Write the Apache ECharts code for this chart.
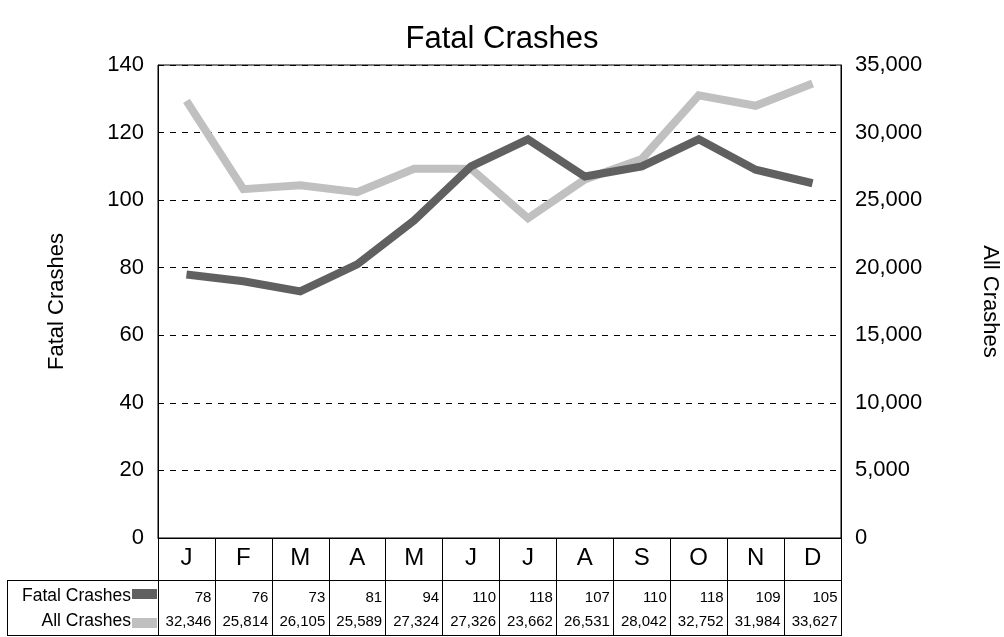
<!DOCTYPE html>
<html>
<head>
<meta charset="utf-8">
<title>Fatal Crashes</title>
<script src="https://cdn.jsdelivr.net/npm/echarts@6/dist/echarts.min.js"></script>
<style>
  html, body { margin: 0; padding: 0; background: #fff; }
  #chart { width: 1004px; height: 637px; }
</style>
</head>
<body>
<div id="chart"></div>
<script>
// data
var months = ['J', 'F', 'M', 'A', 'M', 'J', 'J', 'A', 'S', 'O', 'N', 'D'];
var fatalCrashes = [78, 76, 73, 81, 94, 110, 118, 107, 110, 118, 109, 105];
var allCrashes = [32346, 25814, 26105, 25589, 27324, 27326, 23662, 26531, 28042, 32752, 31984, 33627];

var FONT = 'Liberation Sans, Arial, sans-serif';
var darkGray = '#606060';
var lightGray = '#c0c0c0';

var chart = echarts.init(document.getElementById('chart'));

function fmt(v) {
  return String(v).replace(/\B(?=(\d{3})+(?!\d))/g, ',');
}

// 表格行（数值），用额外的类目轴来放
function tableAxis(values, margin) {
  return {
    type: 'category',
    gridIndex: 0,
    position: 'bottom',
    data: values.map(fmt),
    axisLine: { show: false },
    axisTick: { show: false },
    axisLabel: {
      interval: 0,
      hideOverlap: false,
      margin: margin,
      formatter: function (v) { return '{v|' + v + '}'; },
      rich: { v: { width: 50, align: 'right', fontSize: 15, fontFamily: FONT, color: '#000' } }
    }
  };
}

var option = {
  animation: false,
  textStyle: { fontFamily: FONT },
  title: {
    text: 'Fatal Crashes',
    left: 'center',
    top: 19,
    textStyle: { fontSize: 31, fontWeight: 'normal', color: '#000', fontFamily: FONT }
  },
  grid: {
    left: 158, right: 163, top: 65, bottom: 99,
    containLabel: false,
    outerBoundsMode: 'none',
    show: true, borderColor: '#000', borderWidth: 1
  },
  xAxis: [
    {
      type: 'category',
      data: months,
      boundaryGap: true,
      axisLine: { lineStyle: { color: '#000', width: 1 } },
      axisTick: { show: true, inside: false, length: 98, interval: 0, lineStyle: { color: '#000', width: 1 } },
      axisLabel: { interval: 0, margin: 8, fontSize: 24, color: '#000', fontFamily: FONT }
    },
    tableAxis(fatalCrashes, 52),
    tableAxis(allCrashes, 76)
  ],
  yAxis: [
    {
      type: 'value',
      min: 0, max: 140, interval: 20,
      name: 'Fatal Crashes',
      nameLocation: 'middle',
      nameGap: 90,
      nameTextStyle: { fontSize: 22, color: '#000', fontFamily: FONT },
      axisLine: { show: true, lineStyle: { color: '#000' } },
      axisTick: { show: false },
      axisLabel: { fontSize: 22, color: '#000', margin: 14, fontFamily: FONT },
      splitLine: { show: true, lineStyle: { color: '#000', type: [6, 6], width: 1 } }
    },
    {
      type: 'value',
      min: 0, max: 35000, interval: 5000,
      name: 'All Crashes',
      nameLocation: 'middle',
      nameRotate: -90,
      nameGap: 138,
      nameTextStyle: { fontSize: 22, color: '#000', fontFamily: FONT },
      axisLine: { show: true, lineStyle: { color: '#000' } },
      axisTick: { show: false },
      axisLabel: { fontSize: 22, color: '#000', margin: 14, fontFamily: FONT, formatter: fmt },
      splitLine: { show: false }
    }
  ],
  series: [
    {
      name: 'All Crashes',
      type: 'line',
      yAxisIndex: 1,
      data: allCrashes,
      showSymbol: false,
      symbol: 'none',
      lineStyle: { color: lightGray, width: 8, join: 'miter' },
      itemStyle: { color: lightGray }
    },
    {
      name: 'Fatal Crashes',
      type: 'line',
      yAxisIndex: 0,
      data: fatalCrashes,
      showSymbol: false,
      symbol: 'none',
      lineStyle: { color: darkGray, width: 8, join: 'miter' },
      itemStyle: { color: darkGray }
    }
  ],
  // 表格边框和行标题
  graphic: [
    { type: 'line', shape: { x1: 7, y1: 580.5, x2: 841, y2: 580.5 }, style: { stroke: '#000', lineWidth: 1 } },
    { type: 'line', shape: { x1: 7, y1: 635.5, x2: 841, y2: 635.5 }, style: { stroke: '#000', lineWidth: 1 } },
    { type: 'line', shape: { x1: 7.5, y1: 580, x2: 7.5, y2: 636 }, style: { stroke: '#000', lineWidth: 1 } },
    { type: 'text', style: { x: 131, y: 596, align: 'right', verticalAlign: 'middle', text: 'Fatal Crashes', font: '17.5px ' + FONT, fill: '#000' } },
    { type: 'rect', shape: { x: 132, y: 589, width: 25, height: 10 }, style: { fill: darkGray } },
    { type: 'text', style: { x: 131, y: 621, align: 'right', verticalAlign: 'middle', text: 'All Crashes', font: '17.5px ' + FONT, fill: '#000' } },
    { type: 'rect', shape: { x: 132, y: 618, width: 25, height: 10 }, style: { fill: lightGray } }
  ]
};

chart.setOption(option);
</script>
</body>
</html>
